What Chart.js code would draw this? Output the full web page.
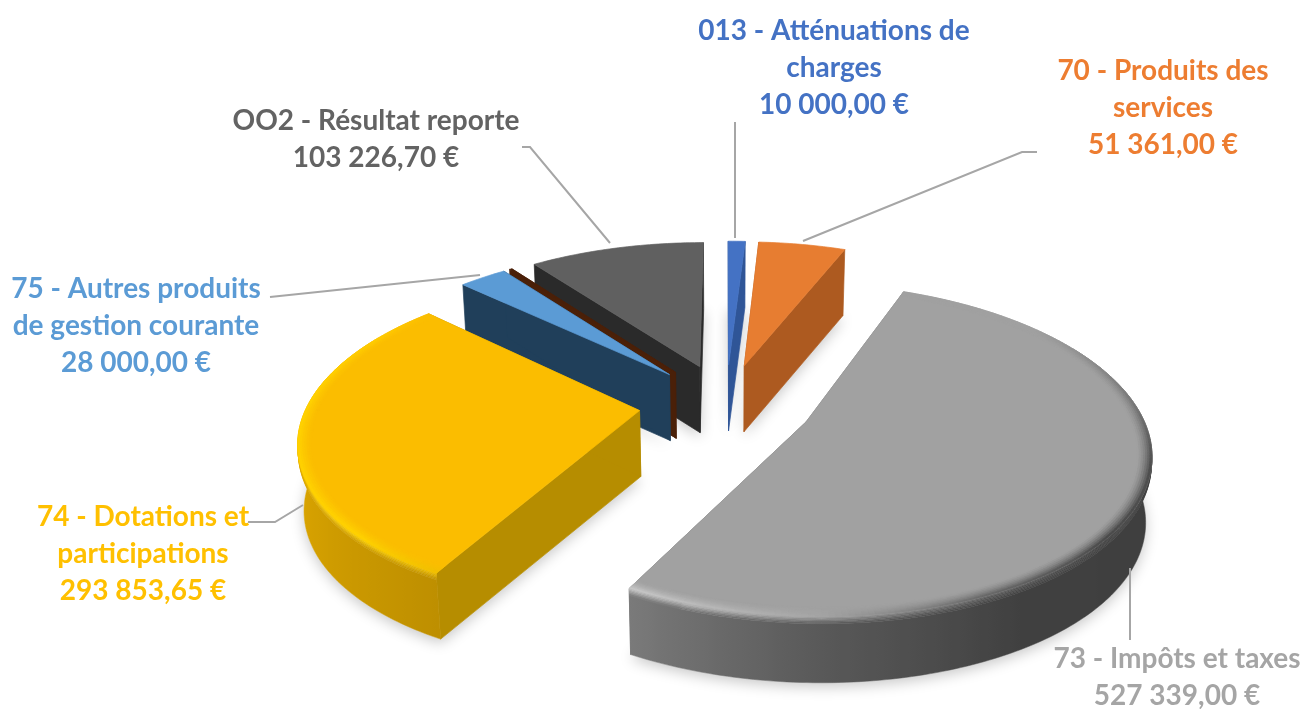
<!DOCTYPE html>
<html lang="fr"><head><meta charset="utf-8">
<style>html,body{margin:0;padding:0;background:#fff}#w{width:1304px;height:709px}</style>
<script src="https://cdn.jsdelivr.net/npm/chart.js@4"></script>
</head><body><div id="w"><canvas id="c" width="1304" height="709"></canvas></div>
<script>
const categories = ["013 - Atténuations de|charges","70 - Produits des|services","73 - Impôts et taxes","74 - Dotations et|participations","75 - Autres produits|de gestion courante","","OO2 - Résultat reporte"];
const values = [10000,51361,527339,293853.65,28000,1500,103226.70];
const topColors = ["#4472C4","#E77D31","#A1A1A1","#FBBD00","#5B9BD5","#4A2008","#606060"];
const radialWallColors = ["#2F5597","#AD5A20","#6E6E6E","#B68D00","#203F5A","#4A2008","#2A2A2A"];
const labelColors = ["#4472C4","#ED7D31","#A5A5A5","#FFC000","#5B9BD5","","#636363"];
// label anchors: [centre x, first line y]
const labelAnchors = [[834,31],[1163,71],[1177,659],[143,517],[136,289],null,[376,121]];
const leaderLines = [
  [[735,122],[735,238]],
  [[1037,152],[1022,152],[803,241]],
  [[1130,568],[1130,640]],
  [[248,522],[275,522],[303,505]],
  [[270,297],[480,275]],
  null,
  [[522,147],[530,147],[610,243]]
];
const drawOrder = [6,5,4,3,0,1,2];
const PIE_RADIUS = 332, EXPLODE = 87, DEPTH = 66, TILT = 0.47, PERSP = 0.0005, BOTTOM_SHRINK = 0.015;
const FONT = 'bold 28px Lato, "Open Sans", sans-serif', LINE_H = 37;
const shadeStops = [[0,.4],[90,.38],[150,.40],[180,.55],[209,.76],[270,.92],[360,.92]];
const rimStops = {
  2:[[50,"#a1a1a1"],[85,"#707070"],[105,"#444444"],[130,"#404040"],[155,"#606060"],[180,"#a4a4a4"],[209,"#cccccc"]],
  3:[[209,"#f0c000"],[225,"#ffd400"],[270,"#ffd400"],[300,"#ffcc00"],[314,"#fbbd00"]]
};
const hex = c => [1,3,5].map(i=>parseInt(c.substr(i,2),16));
const rgb = a => `rgb(${a.map(v=>Math.round(Math.min(255,v))).join(",")})`;
const mix = (a,b,t) => a.map((v,i)=>v+(b[i]-v)*t);
const shadeAt = th => {
  const s=shadeStops; if(th<=s[0][0]) return s[0][1];
  for(let i=1;i<s.length;i++) if(th<=s[i][0]) return s[i-1][1]+(s[i][1]-s[i-1][1])*(th-s[i-1][0])/(s[i][0]-s[i-1][0]);
  return s[s.length-1][1];
};
const rimAt = (i,th) => {
  const s=rimStops[i]; if(th<=s[0][0]) return hex(s[0][1]);
  for(let k=1;k<s.length;k++) if(th<=s[k][0]) return mix(hex(s[k-1][1]),hex(s[k][1]),(th-s[k-1][0])/(s[k][0]-s[k-1][0]));
  return hex(s[s.length-1][1]);
};
const money = v => v.toFixed(2).replace(".",",").replace(/\B(?=(\d{3})+(?!\d))/g," ")+" €";

const pie3d = {
  id:"pie3d",
  beforeDatasetsDraw(chart){
    const ctx=chart.ctx, arcs=chart.getDatasetMeta(0).data;
    const path=pts=>{ctx.beginPath();pts.forEach((p,i)=>i?ctx.lineTo(p[0],p[1]):ctx.moveTo(p[0],p[1]));ctx.closePath();};
    const poly=(pts,fill,sw=.7)=>{path(pts);ctx.fillStyle=fill;ctx.strokeStyle=fill;ctx.lineWidth=sw;ctx.fill();if(sw)ctx.stroke();};
    const geom=i=>{
      const a=arcs[i], off=a.options.offset/4, mid=(a.startAngle+a.endAngle)/2;
      const ou=Math.cos(mid)*off, ov=Math.sin(mid)*off, R=a.outerRadius;
      const P=(ang,r,dz=0)=>{const u=ou+Math.cos(ang)*r, v=ov+Math.sin(ang)*r, w=1-PERSP*v;
        return [a.x+(u/w)*(1-BOTTOM_SHRINK*dz/DEPTH), a.y+TILT*v/w+dz];};
      const n=Math.max(3,Math.ceil((a.endAngle-a.startAngle)*60));
      const angs=[...Array(n+1).keys()].map(k=>a.startAngle+(a.endAngle-a.startAngle)*k/n);
      return {a,R,P,n,angs};
    };
    const deg=x=>(x+Math.PI/2)*180/Math.PI;
    // shadows first, so they never cover a neighbouring slice
    ctx.save();ctx.shadowColor="rgba(0,0,0,.22)";ctx.shadowBlur=14;ctx.shadowOffsetY=4;
    for(const i of drawOrder){const {P,R,angs}=geom(i);poly([P(0,0,DEPTH),...angs.map(x=>P(x,R,DEPTH))],"#ffffff",0);}
    ctx.restore();
    for(const i of drawOrder){
      const {a,R,P,n,angs}=geom(i);
      const base=hex(topColors[i]);
      // radial walls
      for(const e of [a.startAngle,a.endAngle]){
        poly([P(e,0),P(e,R),P(e,R,DEPTH),P(e,0,DEPTH)],radialWallColors[i]);
      }
      // outer wall: coloured on the part facing the viewer, run a little past it so the silhouette stays smooth
      const front=angs.filter(x=>deg(x)>=105&&deg(x)<=262);
      const hull=angs.filter(x=>deg(x)>=60&&deg(x)<=300);
      const rim=rimStops[i], zone=rim?7:0;
      if(front.length>1){
        const xs=front.map(x=>P(x,R)[0]), x0=Math.min(...xs), x1=Math.max(...xs);
        const grad=(colorAt)=>{const g=ctx.createLinearGradient(x0,0,x1,0);
          front.forEach((x,k)=>g.addColorStop(Math.min(1,Math.max(0,(xs[k]-x0)/(x1-x0))),rgb(colorAt(deg(x)))));return g;};
        const ribbon=(z1,z2,colorAt)=>{
          const up=hull.map(x=>P(x,R,z1)), dn=hull.map(x=>P(x,R,z2)).reverse();
          poly([...up,...dn],grad(colorAt),.5);
        };
        const wallAt=th=>base.map(v=>v*shadeAt(th));
        ribbon(zone,DEPTH,wallAt);
        if(rim) for(let s=0;s<5;s++) ribbon(zone*s/5,zone*(s+1)/5,th=>mix(rimAt(i,th),wallAt(th),(s+.5)/5));
      }
      // top surface
      poly([P(0,0),...angs.map(x=>P(x,R))],topColors[i]);
      if(rim){
        const W=14,L=7;
        for(let s=0;s<L;s++){
          const r1=R-W*(1-s/L), r2=R-W*(1-(s+1)/L);
          for(let k=0;k<n;k++){
            const th=deg((angs[k]+angs[k+1])/2);
            const col=rgb(mix(base,rimAt(i,th),Math.pow((s+.5)/L,1.6)));
            poly([P(angs[k],r1),P(angs[k+1],r1),P(angs[k+1],r2),P(angs[k],r2)],col);
          }
        }
      }
    }
    return false;
  },
  afterDraw(chart){
    const ctx=chart.ctx;
    ctx.save();
    ctx.strokeStyle="#A6A6A6";ctx.lineWidth=2;
    leaderLines.forEach(l=>{ if(!l) return; ctx.beginPath();l.forEach((p,i)=>i?ctx.lineTo(p[0],p[1]):ctx.moveTo(p[0],p[1]));ctx.stroke();});
    ctx.font=FONT;ctx.textAlign="center";ctx.textBaseline="middle";
    categories.forEach((c,i)=>{
      if(!labelAnchors[i]) return;
      const lines=[...c.split("|"),money(values[i])];
      ctx.fillStyle=labelColors[i];
      lines.forEach((t,k)=>ctx.fillText(t,labelAnchors[i][0],labelAnchors[i][1]+k*LINE_H));
    });
    ctx.restore();
  }
};

new Chart(document.getElementById("c"),{
  type:"pie",
  data:{labels:categories.map(c=>c.replace("|"," ")),datasets:[{data:values,backgroundColor:topColors,borderWidth:0,offset:EXPLODE*4,radius:PIE_RADIUS}]},
  options:{responsive:false,animation:false,
    layout:{padding:{left:148,top:99,right:0,bottom:0}},
    plugins:{legend:{display:false},tooltip:{enabled:false}}},
  plugins:[pie3d]
});
</script></body></html>
